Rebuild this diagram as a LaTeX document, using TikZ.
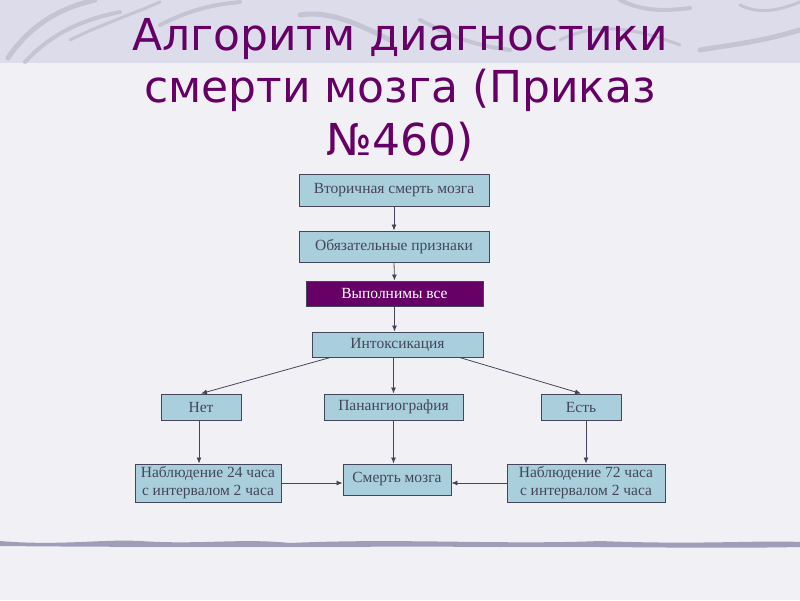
\documentclass[tikz,border=0pt]{standalone}
\usepackage{fontspec}
\setmainfont{Liberation Serif}
\newfontfamily\titlefont{DejaVu Sans}
\usetikzlibrary{arrows.meta}
\definecolor{bandbg}{HTML}{DCDCEA}
\definecolor{pagebg}{HTML}{F1F1F5}
\definecolor{swoosh}{HTML}{B4B4C8}
\definecolor{titlecol}{HTML}{660066}
\definecolor{boxfill}{HTML}{A9CFDD}
\definecolor{darkbox}{HTML}{660066}
\definecolor{linecol}{HTML}{45455A}
\definecolor{rulecol}{HTML}{9E9EB8}
\tikzset{
  box/.style={draw=linecol, line width=0.9pt, fill=boxfill, inner sep=0pt,
    font=\fontsize{15.5}{17}\selectfont, text=linecol, align=center},
  darkstep/.style={box, fill=darkbox, text=white},
  conn/.style={draw=linecol, line width=0.8pt, -{Latex[length=6pt,width=5pt]}},
  titleline/.style={font=\titlefont\fontsize{44}{52}\selectfont, text=titlecol, anchor=base, inner sep=0pt},
}
\begin{document}
\begin{tikzpicture}[x=1pt,y=-1pt]
\useasboundingbox (0,0) rectangle (800,600);
\fill[pagebg] (0,0) rectangle (800,600);
\fill[bandbg] (0,0) rectangle (800,63);
% swooshes
\begin{scope}[draw=swoosh, line cap=round, opacity=0.6]
\draw[line width=5pt] (8,58) .. controls (30,25) and (60,8) .. (95,0);
\draw[line width=4pt] (25,62) .. controls (50,35) and (80,20) .. (120,12);
\draw[line width=3pt] (70,40) .. controls (100,25) and (130,15) .. (160,2);
\draw[line width=4pt] (160,25) .. controls (190,10) and (210,5) .. (240,2);
\draw[line width=5pt] (300,15) .. controls (330,10) and (360,25) .. (390,40);
\draw[line width=4pt] (420,20) .. controls (450,35) and (470,45) .. (510,50);
\draw[line width=3pt] (560,40) .. controls (600,20) and (640,30) .. (680,45);
\draw[line width=5pt] (700,50) .. controls (730,45) and (760,42) .. (800,30);
\draw[line width=3pt] (740,5) .. controls (760,15) and (780,10) .. (800,2);
\draw[line width=4pt] (620,0) .. controls (640,10) and (660,12) .. (690,8);
\end{scope}
% bottom rule
\fill[rulecol] (0,541) .. controls (60,546) and (100,539) .. (140,541)
  .. controls (200,545) and (240,538) .. (290,543)
  .. controls (400,538) and (500,545) .. (600,541)
  .. controls (700,545) and (760,540) .. (800,542)
  -- (800,547) .. controls (700,549) and (600,546) .. (500,547)
  .. controls (400,546) and (200,548) .. (0,546) -- cycle;
% title
\node[titleline] (title1) at (400,50) {Алгоритм диагностики};
\node[titleline] (title2) at (400,102) {смерти мозга (Приказ};
\node[titleline] (title3) at (400,155) {№460)};
% boxes
\node[box, minimum width=190, minimum height=32] (a) at (394,190) {Вторичная смерть мозга};
\node[box, minimum width=190, minimum height=31] (b) at (394,246.5) {Обязательные признаки};
\node[darkstep, minimum width=177, minimum height=25] (c) at (394.5,293.5) {Выполнимы все};
\node[box, minimum width=171, minimum height=25] (d) at (397.5,344.5) {Интоксикация};
\node[box, minimum width=80, minimum height=26] (e) at (201,407) {Нет};
\node[box, minimum width=139, minimum height=26] (f) at (393.5,407) {Панангиография};
\node[box, minimum width=80, minimum height=26] (g) at (581,407) {Есть};
\node[box, minimum width=146, minimum height=38, font=\fontsize{15.5}{18}\selectfont] (h) at (208,483) {Наблюдение 24 часа\\с интервалом 2 часа};
\node[box, minimum width=108, minimum height=31] (i) at (397,479.5) {Смерть мозга};
\node[box, minimum width=158, minimum height=38, font=\fontsize{15.5}{18}\selectfont] (j) at (586,483) {Наблюдение 72 часа\\с интервалом 2 часа};
% connectors
\draw[conn] (a.south) -- (b.north);
\draw[conn] (b.south) -- (c.north);
\draw[conn] (c.south) -- (d.north -| c.south);
\coordinate (dl) at ([xshift=-67pt]d.south);
\coordinate (dr) at ([xshift=62pt]d.south);
\draw[conn] (dl) -- (e.north);
\draw[conn] (d.south -| f.north) -- (f.north);
\draw[conn] (dr) -- (g.north);
\coordinate (es) at ([xshift=-2pt]e.south);
\draw[conn] (es) -- (es |- h.north);
\draw[conn] (f.south) -- (f.south |- i.north);
\coordinate (gs) at ([xshift=5pt]g.south);
\draw[conn] (gs) -- (gs |- j.north);
\draw[conn] (h.east) -- (i.west |- h.east);
\draw[conn] (j.west) -- (i.east |- j.west);
\end{tikzpicture}
\end{document}
